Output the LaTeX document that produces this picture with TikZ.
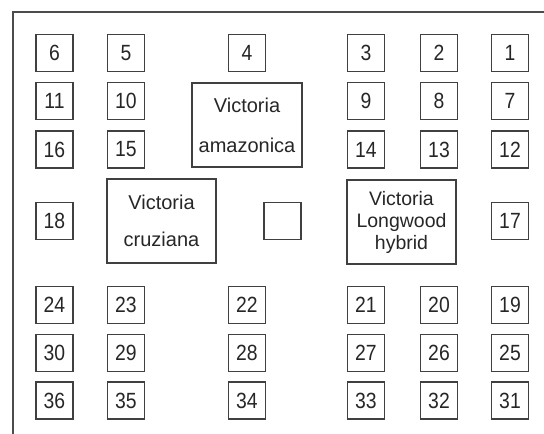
\documentclass[tikz,border=0pt]{standalone}
\usepackage{fontspec}
\setmainfont{Liberation Sans}
\newfontfamily\numfont[FakeStretch=0.88]{Liberation Sans}
\begin{document}
\begin{tikzpicture}[x=1pt,y=-1pt,
  plotbox/.style={draw=black!75,line width=1.1pt,minimum width=37pt,minimum height=37pt,inner sep=0pt,text=black!85,font=\numfont\fontsize{22}{22}\selectfont},
  bigbox/.style={draw=black!75,line width=1.1pt,minimum width=109pt,minimum height=84pt,inner sep=0pt,align=center,text=black!85},
  frameline/.style={draw=black!70,line width=1.4pt}]
\useasboundingbox (0,0) rectangle (544,434);
\coordinate (tl) at (13,12);
\coordinate (tr) at (544,12);
\coordinate (bl) at (13,434);
\draw[frameline] (tr) -- (tl) -- (bl);
% row 1
\node[plotbox] (p6) at (54.5,53) {6};
\node[plotbox] (p5) at (126,53) {5};
\node[plotbox] (p4) at (247,53) {4};
\node[plotbox] (p3) at (366,53) {3};
\node[plotbox] (p2) at (439,53) {2};
\node[plotbox] (p1) at (510,53) {1};
% row 2
\node[plotbox] (p11) at (54.5,101) {11};
\node[plotbox] (p10) at (126,101) {10};
\node[plotbox] (p9) at (366,101) {9};
\node[plotbox] (p8) at (439,101) {8};
\node[plotbox] (p7) at (510,101) {7};
% row 3
\node[plotbox] (p16) at (54.5,149.5) {16};
\node[plotbox] (p15) at (126,149.5) {15};
\node[plotbox] (p14) at (366,149.5) {14};
\node[plotbox] (p13) at (439,149.5) {13};
\node[plotbox] (p12) at (510,149.5) {12};
% row 4
\node[plotbox] (p18) at (54.5,221) {18};
\node[plotbox] (p17) at (510,221) {17};
\node[plotbox] (empty) at (282.5,221) {};
% big boxes
\node[bigbox,minimum width=110pt,font=\fontsize{20}{40}\selectfont] (amaz) at (247,125) {Victoria\\amazonica};
\node[bigbox,font=\fontsize{20}{37}\selectfont] (cruz) at (161.5,221) {Victoria\\cruziana};
\node[bigbox,font=\fontsize{19.5}{22}\selectfont] (long) at (401.5,222) {Victoria\\Longwood\\hybrid};
% row 5
\node[plotbox] (p24) at (54.5,305) {24};
\node[plotbox] (p23) at (126,305) {23};
\node[plotbox] (p22) at (247,305) {22};
\node[plotbox] (p21) at (366,305) {21};
\node[plotbox] (p20) at (439,305) {20};
\node[plotbox] (p19) at (510,305) {19};
% row 6
\node[plotbox] (p30) at (54.5,353) {30};
\node[plotbox] (p29) at (126,353) {29};
\node[plotbox] (p28) at (247,353) {28};
\node[plotbox] (p27) at (366,353) {27};
\node[plotbox] (p26) at (439,353) {26};
\node[plotbox] (p25) at (510,353) {25};
% row 7
\node[plotbox] (p36) at (54.5,400.5) {36};
\node[plotbox] (p35) at (126,400.5) {35};
\node[plotbox] (p34) at (247,400.5) {34};
\node[plotbox] (p33) at (366,400.5) {33};
\node[plotbox] (p32) at (439,400.5) {32};
\node[plotbox] (p31) at (510,400.5) {31};
\end{tikzpicture}
\end{document}
